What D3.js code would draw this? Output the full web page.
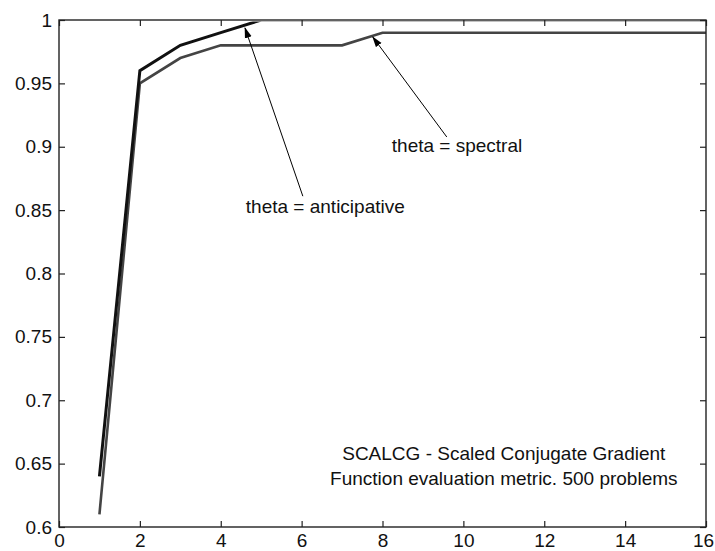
<!DOCTYPE html>
<html>
<head>
<meta charset="utf-8">
<script src="https://cdn.jsdelivr.net/npm/d3@7"></script>
<style>
  body { margin: 0; background: #fff; }
  svg { display: block; }
</style>
</head>
<body>
<svg></svg>
<script>
const width = 715
const height = 551
const margin = { top: 20, right: 9, bottom: 24, left: 59 }

// evaluations (x) and fraction of problems solved (y)
const evals = [1, 2, 3, 4, 5, 6, 7, 8, 9, 10, 11, 12, 13, 14, 15, 16]
const anticipative = [0.64, 0.96, 0.98, 0.99, 1, 1, 1, 1, 1, 1, 1, 1, 1, 1, 1, 1]
const spectral = [0.61, 0.95, 0.97, 0.98, 0.98, 0.98, 0.98, 0.99, 0.99, 0.99, 0.99, 0.99, 0.99, 0.99, 0.99, 0.99]

const xTicks = [0, 2, 4, 6, 8, 10, 12, 14, 16]
const xTickLabels = ['0', '2', '4', '6', '8', '10', '12', '14', '16']
const yTicks = [0.6, 0.65, 0.7, 0.75, 0.8, 0.85, 0.9, 0.95, 1]
const yTickLabels = ['0.6', '0.65', '0.7', '0.75', '0.8', '0.85', '0.9', '0.95', '1']

// annotations, in data coordinates
const arrows = [
  { from: [6.03, 0.861], to: [4.6, 0.9937] },
  { from: [9.59, 0.9077], to: [7.76, 0.9866] },
]
const labels = [
  { x: 4.62, y: 0.848, text: 'theta = anticipative', anchor: 'start' },
  { x: 8.23, y: 0.896, text: 'theta = spectral', anchor: 'start' },
  { x: 11.0, y: 0.653, text: 'SCALCG - Scaled Conjugate Gradient', anchor: 'middle' },
  { x: 11.0, y: 0.6335, text: 'Function evaluation metric. 500 problems', anchor: 'middle' },
]

const font = '"Liberation Sans", Arial, sans-serif'
const fontSize = 19

const svg = d3.select('svg').attr('width', width).attr('height', height)

const x = d3.scaleLinear().domain([0, 16]).range([margin.left, width - margin.right])
const y = d3.scaleLinear().domain([0.6, 1]).range([height - margin.bottom, margin.top])

svg
  .append('defs')
  .append('clipPath')
  .attr('id', 'plot-clip')
  .append('rect')
  .attr('x', x(0))
  .attr('y', y(1) + 1.5)
  .attr('width', x(16) - x(0))
  .attr('height', y(0.6) - y(1))

const arrowHead = svg
  .select('defs')
  .append('marker')
  .attr('id', 'arrow-head')
  .attr('markerUnits', 'userSpaceOnUse')
  .attr('viewBox', '0 -4 11 8')
  .attr('markerWidth', 11)
  .attr('markerHeight', 8)
  .attr('refX', 10)
  .attr('refY', 0)
  .attr('orient', 'auto')
arrowHead.append('path').attr('d', 'M0,-3.5L11,0L0,3.5Z').attr('fill', '#000')

// Series
const line = d3
  .line()
  .x((d) => x(d[0]))
  .y((d) => y(d[1]))

const series = [
  { values: spectral, color: '#444', width: 2.6 },
  { values: anticipative, color: '#111', width: 3 },
]

svg
  .append('g')
  .attr('clip-path', 'url(#plot-clip)')
  .selectAll('path')
  .data(series)
  .enter()
  .append('path')
  .attr('d', (s) => line(evals.map((e, i) => [e, s.values[i]])))
  .attr('fill', 'none')
  .attr('stroke', (s) => s.color)
  .attr('stroke-width', (s) => s.width)
  .attr('stroke-linejoin', 'miter')

// Axes box with inward ticks
function styleAxis(g) {
  g.select('.domain').remove()
  g.selectAll('line').attr('stroke', '#222').attr('stroke-width', 1.2)
  g.selectAll('text')
    .attr('fill', '#111')
    .style('font-family', font)
    .style('font-size', fontSize + 'px')
}

svg
  .append('g')
  .attr('transform', `translate(0,${y(0.6)})`)
  .call(
    d3.axisBottom(x).tickValues(xTicks).tickSizeInner(-6).tickSizeOuter(0).tickPadding(7)
      .tickFormat((d, i) => xTickLabels[i])
  )
  .call(styleAxis)
  // last label sits against the window edge; nudge it inside
  .call((g) => g.selectAll('.tick:last-of-type text').attr('dx', -3))

svg
  .append('g')
  .attr('transform', `translate(0,${y(1)})`)
  .call(d3.axisTop(x).tickValues(xTicks).tickSizeInner(-6).tickSizeOuter(0).tickFormat(''))
  .call(styleAxis)

svg
  .append('g')
  .attr('transform', `translate(${x(0)},0)`)
  .call(
    d3.axisLeft(y).tickValues(yTicks).tickSizeInner(-6).tickSizeOuter(0).tickPadding(7)
      .tickFormat((d, i) => yTickLabels[i])
  )
  .call(styleAxis)

svg
  .append('g')
  .attr('transform', `translate(${x(16)},0)`)
  .call(d3.axisRight(y).tickValues(yTicks).tickSizeInner(-6).tickSizeOuter(0).tickFormat(''))
  .call(styleAxis)

svg
  .append('rect')
  .attr('x', x(0))
  .attr('y', y(1))
  .attr('width', x(16) - x(0))
  .attr('height', y(0.6) - y(1))
  .attr('fill', 'none')
  .attr('stroke', '#222')
  .attr('stroke-width', 1.4)

// Annotations
svg
  .append('g')
  .selectAll('line')
  .data(arrows)
  .enter()
  .append('line')
  .attr('x1', (a) => x(a.from[0]))
  .attr('y1', (a) => y(a.from[1]))
  .attr('x2', (a) => x(a.to[0]))
  .attr('y2', (a) => y(a.to[1]))
  .attr('stroke', '#000')
  .attr('stroke-width', 1)
  .attr('marker-end', 'url(#arrow-head)')

svg
  .append('g')
  .selectAll('text')
  .data(labels)
  .enter()
  .append('text')
  .attr('x', (l) => x(l.x))
  .attr('y', (l) => y(l.y))
  .attr('text-anchor', (l) => l.anchor)
  .attr('fill', '#111')
  .style('font-family', font)
  .style('font-size', fontSize + 'px')
  .text((l) => l.text)
</script>
</body>
</html>
